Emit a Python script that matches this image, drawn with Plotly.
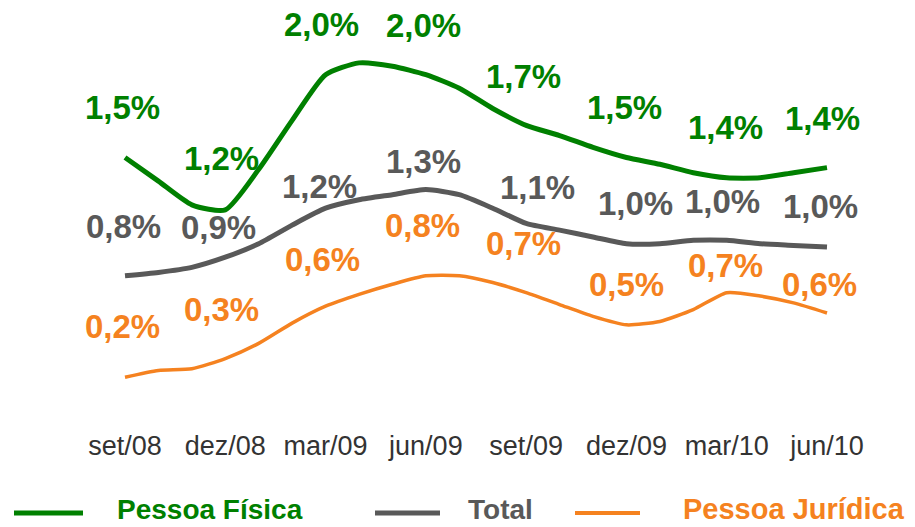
import plotly.graph_objects as go

# ---------------- data ----------------
months = ["set/08", "out/08", "nov/08", "dez/08", "jan/09", "fev/09", "mar/09",
          "abr/09", "mai/09", "jun/09", "jul/09", "ago/09", "set/09", "out/09",
          "nov/09", "dez/09", "jan/10", "fev/10", "mar/10", "abr/10", "mai/10",
          "jun/10"]
quarter_labels = ["set/08", "dez/08", "mar/09", "jun/09", "set/09", "dez/09",
                  "mar/10", "jun/10"]

pessoa_fisica = [1.50, 1.36, 1.22, 1.19, 1.43, 1.72, 1.99, 2.06, 2.04, 1.99, 1.91,
                 1.79, 1.69, 1.63, 1.56, 1.50, 1.46, 1.41, 1.38, 1.38, 1.41, 1.44]
total = [0.80, 0.82, 0.85, 0.91, 0.99, 1.10, 1.20, 1.25, 1.28, 1.31, 1.28,
         1.20, 1.11, 1.07, 1.03, 0.99, 0.99, 1.01, 1.01, 0.99, 0.98, 0.97]
pessoa_juridica = [0.20, 0.24, 0.25, 0.31, 0.40, 0.52, 0.62, 0.69, 0.75, 0.80, 0.80,
                   0.76, 0.70, 0.63, 0.56, 0.51, 0.53, 0.60, 0.70, 0.68, 0.64, 0.58]

pf_labels = ["1,5%", "1,2%", "2,0%", "2,0%", "1,7%", "1,5%", "1,4%", "1,4%"]
total_labels = ["0,8%", "0,9%", "1,2%", "1,3%", "1,1%", "1,0%", "1,0%", "1,0%"]
pj_labels = ["0,2%", "0,3%", "0,6%", "0,8%", "0,7%", "0,5%", "0,7%", "0,6%"]

series_names = ["Pessoa Física", "Total", "Pessoa Jurídica"]

# ---------------- style ----------------
GREEN = "#008000"
GRAY = "#595959"
ORANGE = "#F58220"
FONT = "Liberation Sans, Arial, sans-serif"

W, H = 915, 527
X0_PX, X_END_PX = 125, 827          # pixel of first / last month
PX_PER = (X_END_PX - X0_PX) / (len(months) - 1)
PLOT_BOTTOM = 420                   # pixel of plot-area bottom
Y_ZERO_PX, Y_PX_PER = 411, 169      # pixel of value 0, pixels per 1%

x_idx = list(range(len(months)))
q_idx = x_idx[::3]

fig = go.Figure()
for name, vals, col, w in [("Pessoa Física", pessoa_fisica, GREEN, 5),
                           ("Total", total, GRAY, 5),
                           ("Pessoa Jurídica", pessoa_juridica, ORANGE, 3.5)]:
    fig.add_trace(go.Scatter(x=x_idx, y=vals, mode="lines", name=name,
                             line=dict(color=col, width=w, shape="spline",
                                       smoothing=0.6),
                             cliponaxis=False, showlegend=False,
                             hoverinfo="skip"))

# data labels (offsets in pixels: up, right)
pf_off = [(48, -3), (49, -4), (48, -4), (47, -2), (47, -3), (48, -2), (48, -1), (47, -5)]
tot_off = [(47, -2), (28, -7), (20, -6), (26, -2), (34, 11), (38, 9), (37, -4), (39, -7)]
pj_off = [(49, -3), (47, -4), (45, -3), (48, -3), (47, -3), (38, 0), (25, -1), (26, -8)]

annotations = []
for vals, labels, offs, col in [(pessoa_fisica, pf_labels, pf_off, GREEN),
                                (total, total_labels, tot_off, GRAY),
                                (pessoa_juridica, pj_labels, pj_off, ORANGE)]:
    for qi, lab, (dy, dx) in zip(q_idx, labels, offs):
        annotations.append(dict(x=qi, y=vals[qi], xref="x", yref="y", text=f"<b>{lab}</b>",
                                showarrow=False, xanchor="center", yanchor="middle",
                                yshift=dy + 2, xshift=dx,
                                font=dict(family=FONT, size=33, color=col)))


def px_x(p):
    return p / W


def px_y(p):
    return (PLOT_BOTTOM - p) / PLOT_BOTTOM


# manual legend
shapes = []
legend_items = [(series_names[0], GREEN, 14, 83, 210, 5, 28),
                (series_names[1], GRAY, 375, 440, 500, 5, 28),
                (series_names[2], ORANGE, 575, 640, 794, 4, 29)]
for name, col, x1, x2, tx, lw, fs in legend_items:
    shapes.append(dict(type="line", xref="paper", yref="paper",
                       x0=px_x(x1), x1=px_x(x2), y0=px_y(513), y1=px_y(513),
                       line=dict(color=col, width=lw)))
    annotations.append(dict(x=px_x(tx), y=px_y(527), xref="paper", yref="paper",
                            text=f"<b>{name}</b>", showarrow=False,
                            xanchor="center", yanchor="bottom",
                            font=dict(family=FONT, size=fs, color=col)))

fig.update_layout(
    width=W, height=H,
    margin=dict(l=0, r=0, t=0, b=H - PLOT_BOTTOM, pad=0),
    paper_bgcolor="white", plot_bgcolor="white",
    showlegend=False,
    annotations=annotations,
    shapes=shapes,
    xaxis=dict(range=[-X0_PX / PX_PER, (W - X0_PX) / PX_PER],
               tickvals=q_idx, ticktext=quarter_labels,
               showgrid=False, zeroline=False, showline=False, ticks="",
               tickfont=dict(family=FONT, size=27, color="#333333"),
               ticklabelstandoff=7),
    yaxis=dict(range=[(Y_ZERO_PX - PLOT_BOTTOM) / Y_PX_PER, Y_ZERO_PX / Y_PX_PER],
               visible=False),
)

fig.write_html("out.html",
               config={"displayModeBar": False, "staticPlot": True},
               post_script="document.body.style.margin='0';document.body.style.padding='0';")
